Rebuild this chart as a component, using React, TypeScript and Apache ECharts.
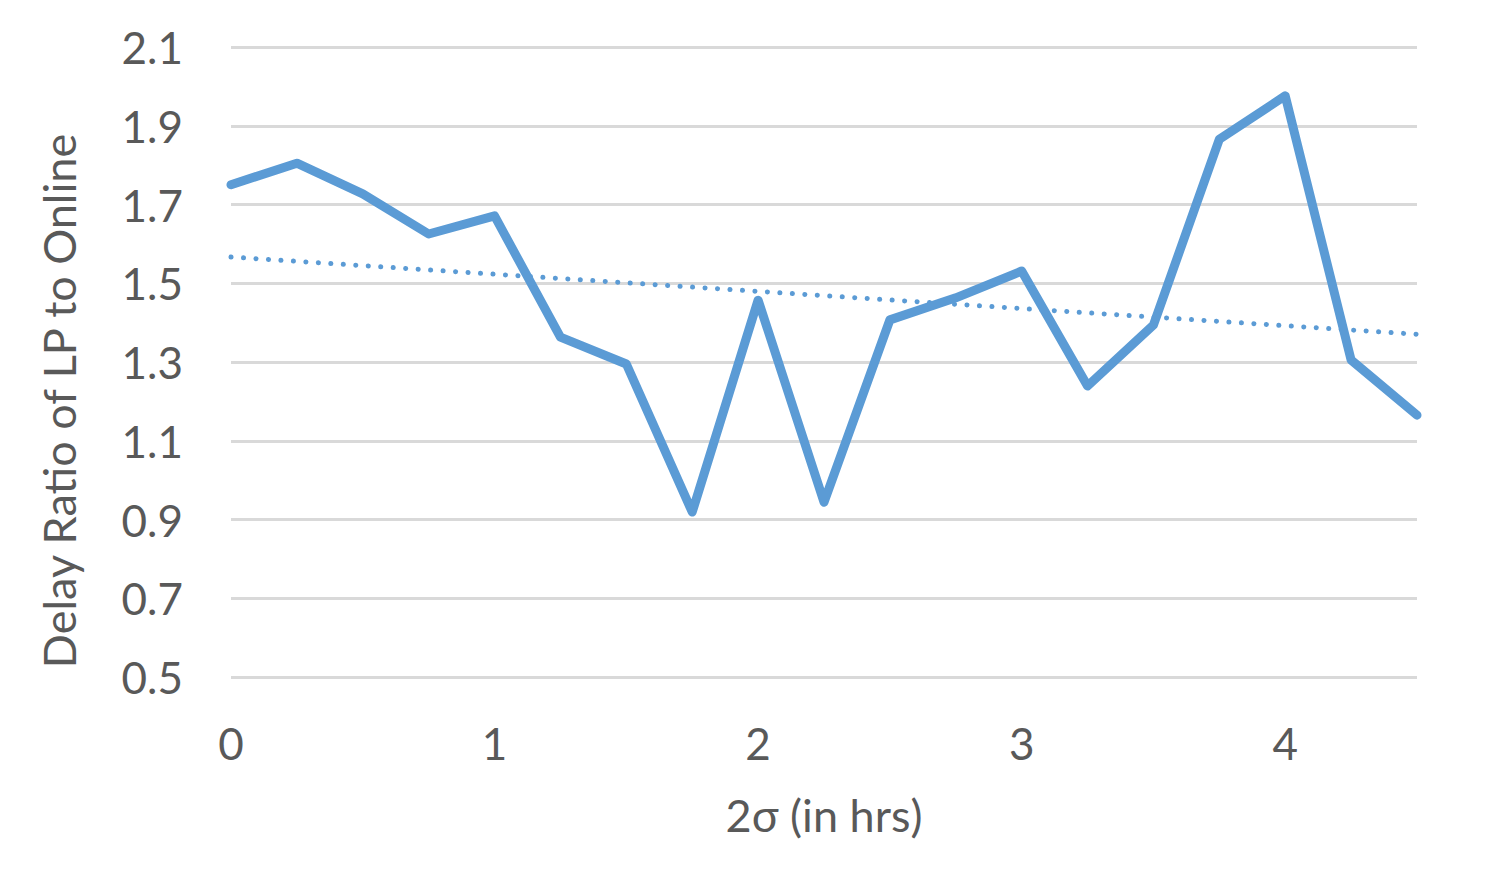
import React, { useEffect, useRef } from "react";
import * as echarts from "echarts";

const xValues = [0, 0.25, 0.5, 0.75, 1, 1.25, 1.5, 1.75, 2, 2.25, 2.5, 2.75, 3, 3.25, 3.5, 3.75, 4, 4.25, 4.5];
const ratioValues = [1.75, 1.805, 1.727, 1.625, 1.671, 1.363, 1.295, 0.919, 1.457, 0.944, 1.407, 1.463, 1.531, 1.239, 1.394, 1.866, 1.976, 1.305, 1.165];
const yTicks = [0.5, 0.7, 0.9, 1.1, 1.3, 1.5, 1.7, 1.9, 2.1];
const xTicks = [0, 1, 2, 3, 4];

function linearTrend(xs: number[], ys: number[]) {
  const n = xs.length;
  const mx = xs.reduce((a, b) => a + b, 0) / n;
  const my = ys.reduce((a, b) => a + b, 0) / n;
  let sxy = 0, sxx = 0;
  for (let i = 0; i < n; i++) {
    sxy += (xs[i] - mx) * (ys[i] - my);
    sxx += (xs[i] - mx) * (xs[i] - mx);
  }
  const slope = sxy / sxx;
  const icpt = my - slope * mx;
  return [xs[0], xs[n - 1]].map((x) => [x, icpt + slope * x]);
}

export default function App() {
  const ref = useRef<HTMLDivElement>(null);
  useEffect(() => {
    document.body.style.margin = "0";
    const chart = echarts.init(ref.current!, undefined, { renderer: "svg" });
    const font = "Lato";
    const textColor = "#595959";
    chart.setOption({
      animation: false,
      backgroundColor: "#ffffff",
      grid: { left: 231, right: 73, top: 47, bottom: 212, containLabel: false },
      xAxis: {
        type: "value",
        min: 0,
        max: 4.5,
        interval: 1,
        name: "2σ (in hrs)",
        nameLocation: "middle",
        nameGap: 115,
        nameTextStyle: { fontSize: 45, color: textColor, fontFamily: font },
        axisLine: { show: false },
        axisTick: { show: false },
        splitLine: { show: false },
        axisLabel: {
          fontSize: 44,
          color: textColor,
          fontFamily: font,
          margin: 44,
          showMaxLabel: false,
          formatter: (v: number) => (xTicks.includes(v) ? String(v) : ""),
        },
      },
      yAxis: {
        type: "value",
        min: 0.5,
        max: 2.1,
        interval: 0.2,
        name: "Delay Ratio of LP to Online",
        nameLocation: "middle",
        nameGap: 150,
        nameTextStyle: { fontSize: 45, color: textColor, fontFamily: font, padding: [0, 78, 0, 0] },
        axisLine: { show: false },
        axisTick: { show: false },
        splitLine: { show: true, lineStyle: { color: "#d9d9d9", width: 3 } },
        axisLabel: {
          fontSize: 44,
          color: textColor,
          fontFamily: font,
          margin: 48,
          formatter: (v: number) => {
            const t = yTicks.find((k) => Math.abs(k - v) < 1e-6);
            return t !== undefined ? t.toFixed(1) : "";
          },
        },
      },
      series: [
        {
          type: "line",
          data: xValues.map((x, i) => [x, ratioValues[i]]),
          showSymbol: false,
          symbol: "none",
          lineStyle: { color: "#5b9bd5", width: 9, join: "round", cap: "round" },
          clip: true,
          z: 3,
        },
        {
          type: "line",
          data: linearTrend(xValues, ratioValues),
          showSymbol: false,
          symbol: "none",
          lineStyle: { color: "#5b9bd5", width: 5, type: [0.1, 12.4], cap: "round" },
          z: 2,
        },
      ],
    });
    return () => chart.dispose();
  }, []);
  return <div ref={ref} style={{ width: 1490, height: 889 }} />;
}
